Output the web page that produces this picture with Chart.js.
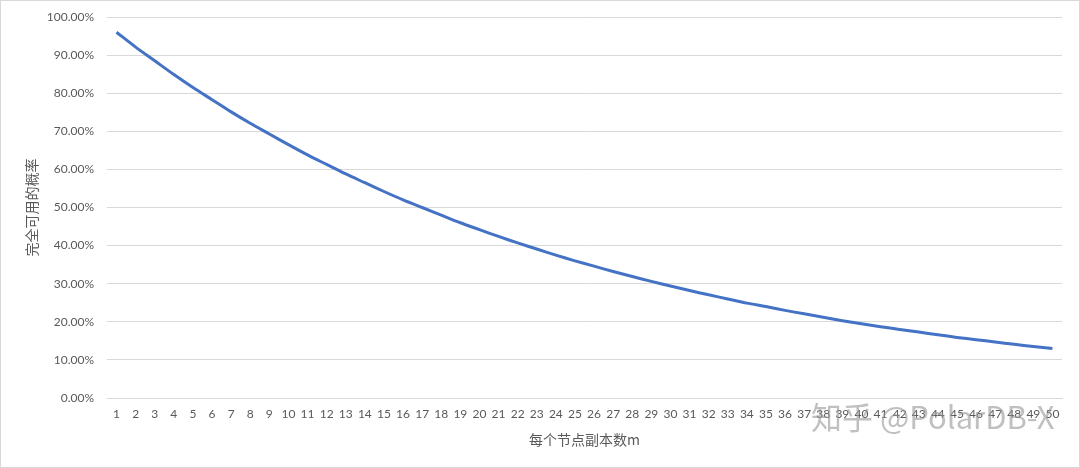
<!DOCTYPE html>
<html>
<head>
<meta charset="utf-8">
<script src="https://cdn.jsdelivr.net/npm/chart.js@4/dist/chart.umd.min.js"></script>
<style>
	html, body { margin: 0; padding: 0; background: #fff; }
	#wrap { position: relative; width: 1080px; height: 468px; box-sizing: border-box; border: 1px solid #d9d9d9; }
	#mark { position: absolute; left: 810px; top: 392px; font-family: "Noto Sans CJK SC", sans-serif; font-size: 31px; color: rgba(150, 150, 150, 0.6); }
</style>
</head>
<body>
<div id="wrap">
	<canvas id="myChart" width="1078" height="466"></canvas>
	<div id="mark">知乎 @PolarDB-X</div>
</div>
<script>
// m = 1..50
var replicaCounts = [];
for (let i = 1; i <= 50; i++) replicaCounts.push(String(i));

// (fraction available)
var availability = [
	0.960, 0.921, 0.885, 0.849, 0.815, 0.783, 0.751, 0.721, 0.693, 0.665,
	0.638, 0.613, 0.588, 0.565, 0.542, 0.520, 0.500, 0.480, 0.460, 0.442,
	0.424, 0.407, 0.391, 0.375, 0.360, 0.346, 0.332, 0.319, 0.306, 0.294,
	0.282, 0.271, 0.260, 0.249, 0.240, 0.230, 0.221, 0.212, 0.203, 0.195,
	0.187, 0.180, 0.173, 0.166, 0.159, 0.153, 0.147, 0.141, 0.135, 0.130
];

var yTitle = "完全可用的概率";
var xTitle = "每个节点副本数m";

const FONT = "Lato, 'Noto Sans CJK SC', sans-serif";
Chart.defaults.font.family = FONT;
Chart.defaults.color = "#595959";

const chart = new Chart(document.getElementById("myChart").getContext("2d"), {
	type: "line",
	data: {
		labels: replicaCounts,
		datasets: [
			{
				data: availability,
				borderColor: "#4472c4",
				borderWidth: 3,
				pointRadius: 0,
				tension: 0.3,
				fill: false,
			},
		],
	},
	options: {
		responsive: false,
		animation: false,
		layout: { padding: { top: 16, right: 17, bottom: 19, left: 0 } },
		plugins: { legend: { display: false }, tooltip: { enabled: false } },
		scales: {
			y: {
				min: 0,
				max: 1,
				ticks: {
					stepSize: 0.1,
					padding: 13,
					font: { size: 12 },
					callback: (v) => (v * 100).toFixed(2) + "%",
				},
				grid: { color: "#d9d9d9", drawTicks: false },
				border: { display: false },
				title: { display: true, text: yTitle, font: { size: 14, family: "'Noto Sans CJK SC', sans-serif" }, padding: { top: 22, bottom: 0 } },
				afterFit: (axis) => {
					axis.width = 106;
					axis.paddingTop = 0;
					axis.paddingBottom = 0;
				},
			},
			x: {
				offset: true,
				ticks: { padding: 9, maxRotation: 0, autoSkip: false, font: { size: 12 } },
				grid: { display: false, drawTicks: false },
				border: { color: "#d9d9d9" },
				title: { display: true, text: xTitle, font: { size: 14, family: "'Noto Sans CJK SC', sans-serif" }, padding: { top: 4, bottom: 0 } },
				afterFit: (axis) => { axis.height = 50; },
			},
		},
	},
});
</script>
</body>
</html>
